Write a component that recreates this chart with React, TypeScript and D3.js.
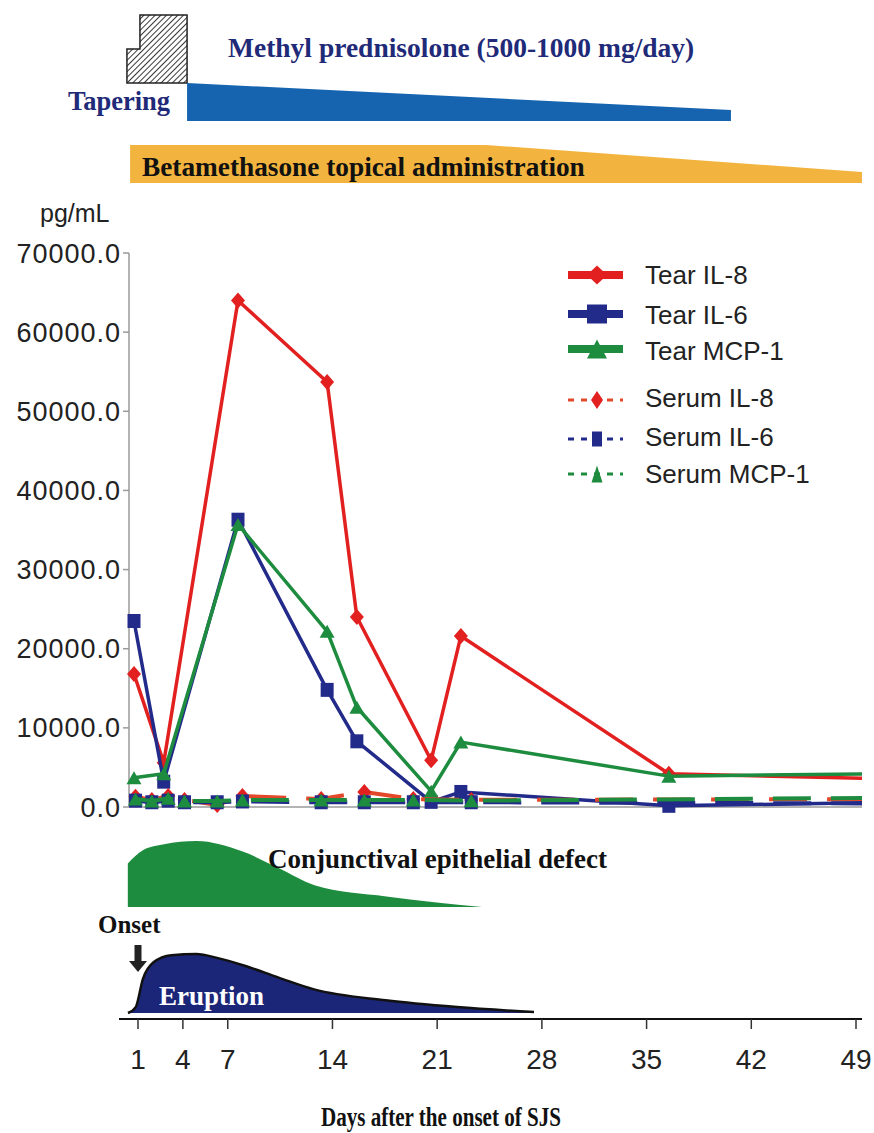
import React from "react";
import * as d3 from "d3";

// Tear specimens: sampling day and concentration (pg/mL); the last sample lies past the plotted range
const tearDays = [1, 3, 8, 14, 16, 21, 23, 37, 51];
const tearIL8 = [16800, 5600, 64000, 53700, 24000, 5900, 21600, 4200, 3600];
const tearIL6 = [23500, 3200, 36300, 14800, 8300, 650, 1900, 150, 550];
const tearMCP1 = [3700, 4200, 35700, 22200, 12600, 2000, 8200, 3900, 4200];

// Serum specimens
const serumDays = [1.1, 2.2, 3.3, 4.4, 6.6, 8.3, 13.6, 16.5, 19.8, 23.7, 51];
const serumIL8 = [1300, 900, 1400, 900, 250, 1400, 1000, 1900, 1000, 900, 1000];
const serumIL6 = [800, 600, 800, 600, 600, 700, 600, 600, 600, 600, 450];
const serumMCP1 = [1000, 750, 1100, 750, 750, 900, 900, 900, 900, 800, 1150];

const yTicks = [0, 10000, 20000, 30000, 40000, 50000, 60000, 70000];
const dayTicks = [1, 4, 7, 14, 21, 28, 35, 42, 49];

// Clinical course: [day, relative severity]
const conjunctivalDefect: [number, number][] = [
  [0.32, 0.66], [1.33, 0.86], [2.74, 0.95], [4.9, 1.0], [8.0, 0.84],
  [10.4, 0.59], [12.8, 0.33], [17.6, 0.16], [24.0, 0.0],
];
const eruption: [number, number][] = [
  [0.33, 0], [0.85, 0.1], [1.33, 0.58], [2.04, 0.86], [3.23, 0.98], [4.9, 1.0],
  [6.35, 0.93], [8.02, 0.81], [10.4, 0.6], [12.77, 0.4], [17.56, 0.215],
  [22.33, 0.1], [27.47, 0.015],
];

// Treatment periods (days)
const pulseStart = 0.26;
const pulseStep = 1.13;
const pulseEnd = 4.28;
const methylEnd = 40.64;
const betaStart = 0.47;
const betaTaperStart = 24.27;
const betaEnd = 49.4;
const onsetDay = 1;

const RED = "#e2201f";
const BLUE = "#222a8a";
const GREEN = "#1e8c3e";
const NAVY = "#1f2a78";

const SERIF = "'Liberation Serif', 'Times New Roman', serif";
const SANS = "'Liberation Sans', Arial, sans-serif";
const NARROW = "'Liberation Sans Narrow', 'Arial Narrow', 'Liberation Sans', sans-serif";

type Marker = "diamond" | "square" | "triangle";

function markerPath(kind: Marker, w: number, h: number): string {
  const a = w / 2;
  const b = h / 2;
  if (kind === "diamond") return `M0,${-b}L${a},0L0,${b}L${-a},0Z`;
  if (kind === "square") return `M${-a},${-b}H${a}V${b}H${-a}Z`;
  return `M0,${-b}L${a},${b}L${-a},${b}Z`;
}

interface Series {
  name: string;
  days: number[];
  values: number[];
  line: string;
  fill: string;
  marker: Marker;
  dashed: boolean;
}

const series: Series[] = [
  { name: "Tear IL-8", days: tearDays, values: tearIL8, line: RED, fill: RED, marker: "diamond", dashed: false },
  { name: "Tear IL-6", days: tearDays, values: tearIL6, line: BLUE, fill: BLUE, marker: "square", dashed: false },
  { name: "Tear MCP-1", days: tearDays, values: tearMCP1, line: GREEN, fill: GREEN, marker: "triangle", dashed: false },
  { name: "Serum IL-8", days: serumDays, values: serumIL8, line: "#e4482a", fill: RED, marker: "diamond", dashed: true },
  { name: "Serum IL-6", days: serumDays, values: serumIL6, line: BLUE, fill: BLUE, marker: "square", dashed: true },
  { name: "Serum MCP-1", days: serumDays, values: serumMCP1, line: GREEN, fill: GREEN, marker: "triangle", dashed: true },
];

const markerSize: Record<Marker, [number, number]> = {
  diamond: [14, 16],
  square: [13, 14],
  triangle: [15, 13],
};

export default function App() {
  // chart scale (days → px) and concentration scale
  const x = d3.scaleLinear().domain([1, 50]).range([134, 862]);
  const y = d3.scaleLinear().domain([0, 70000]).range([807, 253]);
  // timeline scale for the clinical-course axis
  const t = d3.scaleLinear().domain([1, 49]).range([138, 856]);

  const axisX0 = 129;
  const plotRight = 862;

  const conjBase = 907;
  const conjHeight = 66;
  const eruBase = 1013;
  const eruHeight = 59;

  const conjArea = d3
    .area<[number, number]>()
    .x((d) => t(d[0]))
    .y0(conjBase)
    .y1((d) => conjBase - d[1] * conjHeight)
    .curve(d3.curveMonotoneX);
  const eruArea = d3
    .area<[number, number]>()
    .x((d) => t(d[0]))
    .y0(eruBase)
    .y1((d) => eruBase - d[1] * eruHeight)
    .curve(d3.curveMonotoneX);
  const eruTop = d3
    .line<[number, number]>()
    .x((d) => t(d[0]))
    .y((d) => eruBase - d[1] * eruHeight)
    .curve(d3.curveMonotoneX);

  const pts = (arr: [number, number][]) => arr.map((p) => p.join(",")).join(" ");

  const hatchShape: [number, number][] = [
    [t(pulseStart), 83], [t(pulseStart), 49], [t(pulseStep), 49], [t(pulseStep), 15],
    [t(pulseEnd), 15], [t(pulseEnd), 83],
  ];
  const methylShape: [number, number][] = [
    [t(pulseEnd), 83], [t(methylEnd), 110], [t(methylEnd), 121], [t(pulseEnd), 121],
  ];
  const betaShape: [number, number][] = [
    [t(betaStart), 145], [t(betaTaperStart), 145], [t(betaEnd), 172], [t(betaEnd), 183], [t(betaStart), 183],
  ];

  const legendRows = [275, 314, 349, 400, 439, 474];
  const legendText = [274, 314, 350, 397, 436, 473];

  return (
    <svg
      width={874}
      height={1133}
      style={{ position: "absolute", left: 0, top: 0, display: "block", background: "#fff" }}
    >
      <defs>
        <pattern id="hatch" width="4" height="4" patternUnits="userSpaceOnUse" patternTransform="rotate(45)">
          <rect width="4" height="4" fill="#fff" />
          <line x1="0" y1="0" x2="0" y2="4" stroke="#222" strokeWidth="1.8" />
        </pattern>
        <clipPath id="plotClip">
          <rect x={100} y={200} width={plotRight - 100} height={640} />
        </clipPath>
      </defs>

      {/* treatment bands */}
      <polygon points={pts(hatchShape)} fill="url(#hatch)" stroke="#222" strokeWidth={1.5} />
      <polygon points={pts(methylShape)} fill="#1664b0" />
      <polygon points={pts(betaShape)} fill="#f2b43e" />
      <text x={228} y={57} fontFamily={SERIF} fontWeight="bold" fontSize={27.5} fill={NAVY}>
        Methyl prednisolone (500-1000 mg/day)
      </text>
      <text x={68} y={110} fontFamily={SERIF} fontWeight="bold" fontSize={26.5} fill={NAVY}>
        Tapering
      </text>
      <text x={142} y={176} fontFamily={SERIF} fontWeight="bold" fontSize={27.3} fill="#111">
        Betamethasone topical administration
      </text>

      {/* concentration axis */}
      <text x={40} y={222} fontFamily={SANS} fontSize={25} fill="#222">
        pg/mL
      </text>
      <line x1={axisX0} x2={axisX0} y1={y(70000)} y2={y(0)} stroke="#9a9a9a" strokeWidth={1.5} />
      <line x1={axisX0} x2={plotRight} y1={y(0)} y2={y(0)} stroke="#9a9a9a" strokeWidth={1.5} />
      {yTicks.map((v) => (
        <g key={v}>
          <line x1={axisX0 - 6} x2={axisX0} y1={y(v)} y2={y(v)} stroke="#9a9a9a" strokeWidth={1.5} />
          <text
            x={121}
            y={y(v) + 9.5}
            textAnchor="end"
            fontFamily={SANS}
            fontSize={27}
            letterSpacing={1}
            fill="#222"
          >
            {v.toFixed(1)}
          </text>
        </g>
      ))}

      {/* series */}
      <g clipPath="url(#plotClip)">
        {series.map((s) => {
          const line = d3
            .line<number>()
            .x((_, i) => x(s.days[i]))
            .y((v) => y(v));
          const [mw, mh] = markerSize[s.marker];
          return (
            <g key={s.name}>
              <path
                d={line(s.values) || ""}
                fill="none"
                stroke={s.line}
                strokeWidth={s.dashed ? 4 : 3.5}
                strokeDasharray={s.dashed ? "38 20" : undefined}
                strokeLinejoin="round"
              />
              {s.values.map((v, i) =>
                s.days[i] <= 50 ? (
                  <path
                    key={i}
                    transform={`translate(${x(s.days[i])},${y(v)})`}
                    d={markerPath(s.marker, mw, mh)}
                    fill={s.fill}
                  />
                ) : null
              )}
            </g>
          );
        })}
      </g>

      {/* legend */}
      {series.map((s, i) => {
        const ly = legendRows[i];
        const [mw, mh] = s.dashed
          ? s.marker === "diamond"
            ? [12, 18]
            : s.marker === "square"
            ? [10, 15]
            : [11, 17]
          : [20, 19];
        return (
          <g key={s.name}>
            <line
              x1={568}
              x2={623}
              y1={ly}
              y2={ly}
              stroke={s.line}
              strokeWidth={s.dashed ? 3 : 8}
              strokeDasharray={s.dashed ? "6 7" : undefined}
            />
            <path transform={`translate(${597},${ly})`} d={markerPath(s.marker, mw, mh)} fill={s.fill} />
            <text x={645} y={legendText[i] + 9.5} fontFamily={SANS} fontSize={26} fill="#222">
              {s.name}
            </text>
          </g>
        );
      })}

      {/* clinical course */}
      <path d={conjArea(conjunctivalDefect) || ""} fill={GREEN} />
      <text x={268} y={868} fontFamily={SERIF} fontWeight="bold" fontSize={27} fill="#111">
        Conjunctival epithelial defect
      </text>

      <text x={98} y={933} fontFamily={SERIF} fontWeight="bold" fontSize={25} fill="#111">
        Onset
      </text>
      <g fill="#222">
        <rect x={t(onsetDay) - 3.5} y={945} width={7} height={17} />
        <polygon
          points={pts([
            [t(onsetDay) - 9, 961],
            [t(onsetDay) + 9, 961],
            [t(onsetDay), 972],
          ])}
        />
      </g>

      <path d={eruArea(eruption) || ""} fill="#1c2678" />
      <path d={eruTop(eruption) || ""} fill="none" stroke="#111" strokeWidth={2.5} />
      <text x={159} y={1005} fontFamily={SERIF} fontWeight="bold" fontSize={27} fill="#fff">
        Eruption
      </text>

      {/* day axis */}
      <line x1={119} x2={plotRight} y1={1019} y2={1019} stroke="#111" strokeWidth={2.2} />
      {dayTicks.map((d) => (
        <g key={d}>
          <line x1={t(d)} x2={t(d)} y1={1019} y2={1029} stroke="#333" strokeWidth={1.5} />
          <text x={t(d)} y={1069} textAnchor="middle" fontFamily={NARROW} fontSize={28} fill="#222">
            {d}
          </text>
        </g>
      ))}
      <text
        x={441}
        y={1126}
        textAnchor="middle"
        fontFamily={SERIF}
        fontWeight="bold"
        fontSize={27}
        textLength={240}
        lengthAdjust="spacingAndGlyphs"
        fill="#111"
      >
        Days after the onset of SJS
      </text>
    </svg>
  );
}
